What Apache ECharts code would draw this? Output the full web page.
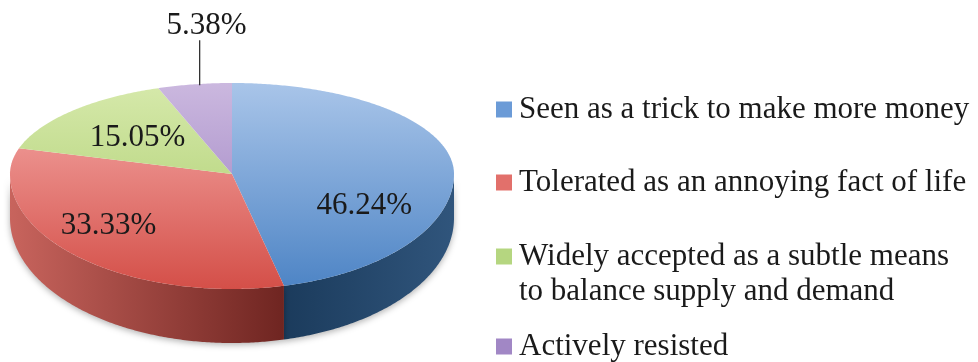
<!DOCTYPE html>
<html>
<head>
<meta charset="utf-8">
<script src="https://cdn.jsdelivr.net/npm/echarts@6/dist/echarts.min.js"></script>
<style>html,body{margin:0;padding:0;background:#fff}#c{width:978px;height:362px}</style>
</head>
<body>
<div id="c"></div>
<script>
const categories = [
  'Seen as a trick to make more money',
  'Tolerated as an annoying fact of life',
  'Widely accepted as a subtle means to balance supply and demand',
  'Actively resisted'
];
const values = [46.24, 33.33, 15.05, 5.38];

// styling
const topColors = [['#a9c5e9', '#4d84c5'], ['#f6aeac', '#d44f48'], ['#d6e9ab', '#a6ca66'], ['#cbb8df', '#9679bd']];
const sideColors = [['#1b3b5c', '#30557c'], ['#c8645d', '#6f2521'], ['#8aa653', '#6c8a3a'], ['#7d62a0', '#624883']];
const legendColors = ['#6b9bd7', '#e2706b', '#b5d680', '#a187c5'];
const labelNudge = [[0, 38], [-27, 4], [2, 1]];

const CX = 232, CY = 174, RX = 222, RYB = 91, RYF = 115;
const FONT = 'Liberation Serif';
const FS = 31;

const total = values.reduce((a, b) => a + b, 0);
function pt(t, drop) {
  const s = Math.sin(t), c = Math.cos(t);
  const ry = c > 0 ? RYB : RYF;
  return [CX + RX * s, CY - ry * c + (drop || 0)];
}
function depth(t) { return 44 + 10 * Math.max(0, -Math.cos(t)); }
function arc(a, b, withDepth) {
  const n = Math.max(2, Math.ceil(Math.abs(b - a) / 0.01));
  const pts = [];
  for (let k = 0; k <= n; k++) {
    const t = a + (b - a) * k / n;
    pts.push(pt(t, withDepth ? depth(t) : 0));
  }
  return pts;
}

function makeRender(i) {
  return function (params, api) {
    let before = 0;
    for (let j = 0; j < i; j++) before += values[j];
    const v = api.value(0);
    const a0 = before / total * Math.PI * 2;
    const a1 = (before + v) / total * Math.PI * 2;
    const children = [];
    const sa = Math.max(a0, Math.PI / 2), sb = Math.min(a1, Math.PI * 1.5);
    if (sa < sb) {
      const pts = arc(sa, sb, false).concat(arc(sb, sa, true));
      const xs = pts.map(p => p[0]);
      children.push({
        type: 'polygon',
        shape: { points: pts },
        style: {
          fill: { type: 'linear', x: Math.min(...xs), y: 0, x2: Math.max(...xs), y2: 0, global: true,
            colorStops: [{ offset: 0, color: sideColors[i][0] }, { offset: 1, color: sideColors[i][1] }] },
          shadowBlur: 6, shadowOffsetY: 2, shadowColor: 'rgba(0,0,0,0.3)'
        }
      });
    }
    const topPts = [[CX, CY]].concat(arc(a0, a1, false));
    children.push({
      type: 'polygon',
      shape: { points: topPts },
      style: {
        fill: { type: 'linear', x: 0, y: CY - RYB, x2: 0, y2: CY + RYF, global: true,
          colorStops: [{ offset: 0, color: topColors[i][0] }, { offset: 1, color: topColors[i][1] }] }
      }
    });
    const mid = (a0 + a1) / 2;
    const txt = v.toFixed(2) + '%';
    if (i < 3) {
      const s = Math.sin(mid), c = Math.cos(mid);
      const ry = c > 0 ? RYB : RYF;
      const x = CX + 0.6 * RX * s + labelNudge[i][0];
      const y = CY - 0.6 * ry * c + labelNudge[i][1];
      children.push({
        type: 'text', z2: 10,
        style: { text: txt, x: x, y: y, align: 'center', verticalAlign: 'middle',
          font: FS + 'px "' + FONT + '"', fill: '#1a1a1a' }
      });
    } else {
      const p = pt(mid, 0);
      const lx = p[0] + 5;
      children.push({
        type: 'line', z2: 10,
        shape: { x1: lx, y1: p[1] + 1, x2: lx, y2: p[1] - 44 },
        style: { stroke: '#333', lineWidth: 1.3 }
      });
      children.push({
        type: 'text', z2: 10,
        style: { text: txt, x: lx + 7, y: p[1] - 58, align: 'center', verticalAlign: 'middle',
          font: FS + 'px "' + FONT + '"', fill: '#1a1a1a' }
      });
    }
    return { type: 'group', children: children };
  };
}

const measureCtx = document.createElement('canvas').getContext('2d');
function wrapLines(name) {
  measureCtx.font = FS + 'px "' + FONT + '"';
  const words = name.split(' ');
  const lines = [];
  let cur = '';
  words.forEach(w => {
    const t = cur ? cur + ' ' + w : w;
    if (measureCtx.measureText(t).width > 460 && cur) { lines.push(cur); cur = w; } else cur = t;
  });
  lines.push(cur);
  return lines;
}
// multi-line entries get an empty leading line so the marker lines up with the first line
function legendText(name) {
  const lines = wrapLines(name);
  if (lines.length === 2) lines.unshift('');
  return lines.join('\n');
}

const legendTops = [92, 165, 204, 329];
const legends = categories.map((name, i) => ({
  data: [name],
  left: 496,
  top: legendTops[i],
  padding: 0,
  icon: 'rect',
  itemWidth: 16,
  itemHeight: 16,
  selectedMode: false,
  formatter: legendText,
  textStyle: {
    fontFamily: FONT, fontSize: FS, color: '#1a1a1a', lineHeight: 35,
    padding: [0, 0, 0, 2]
  }
}));

const series = categories.map((name, i) => ({
  type: 'custom',
  name: name,
  coordinateSystem: 'none',
  itemStyle: { color: legendColors[i] },
  renderItem: makeRender(i),
  data: [[values[i]]],
  silent: true
}));

const chart = echarts.init(document.getElementById('c'), null, { renderer: 'canvas' });
chart.setOption({
  animation: false,
  backgroundColor: '#fff',
  legend: legends,
  series: series
});
</script>
</body>
</html>
